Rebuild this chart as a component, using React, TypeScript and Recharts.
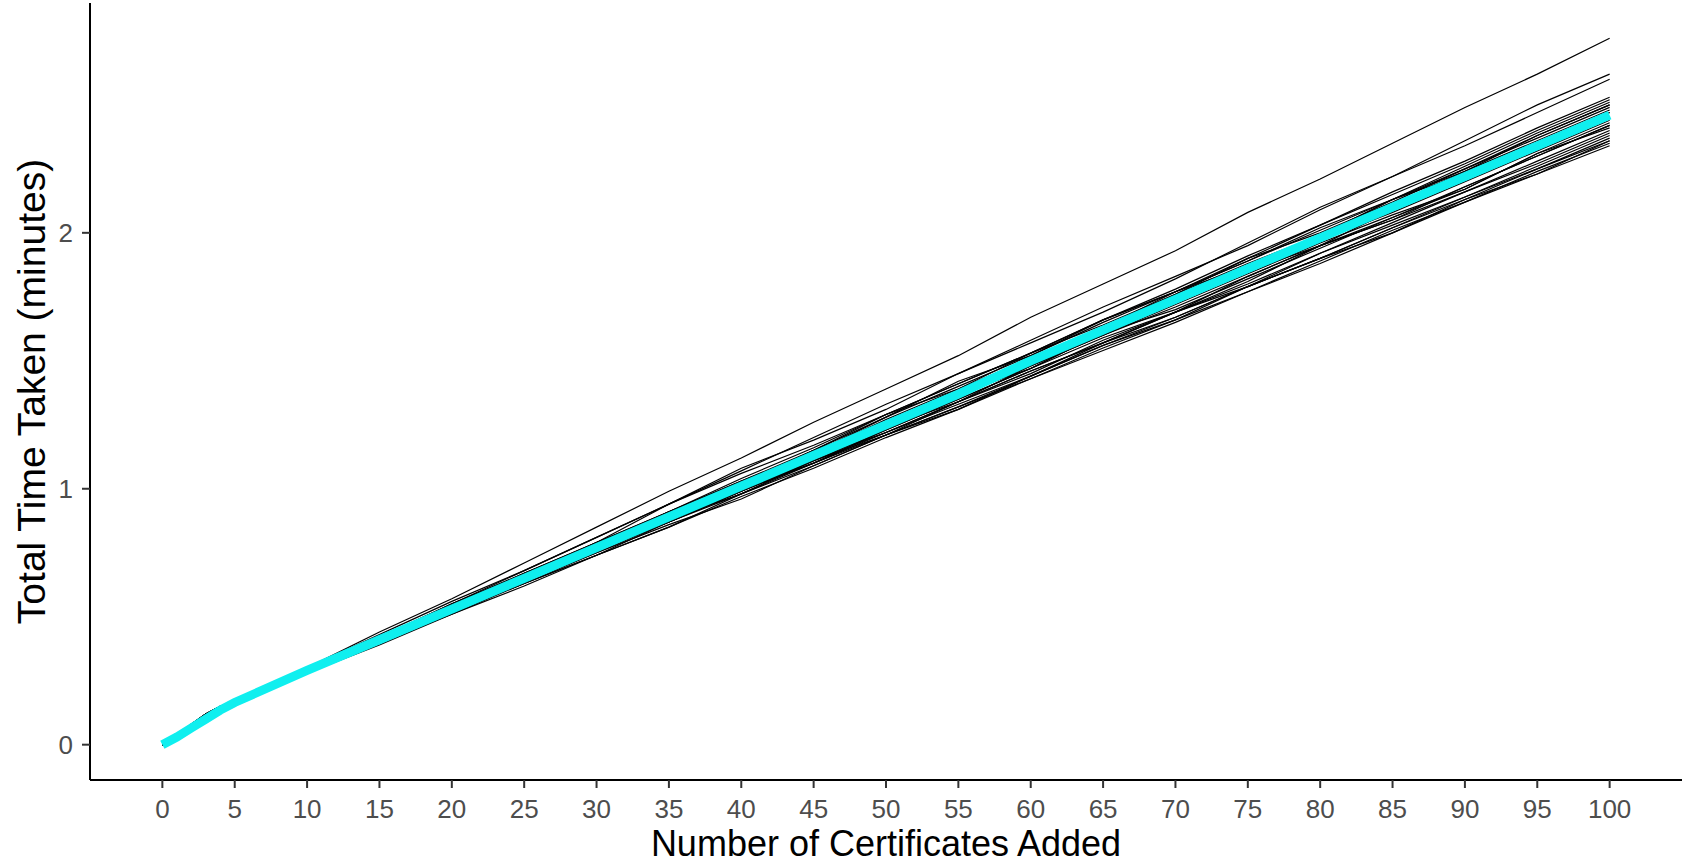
import React from "react";
import { LineChart, Line, XAxis, YAxis } from "recharts";

// certificates added (x); dense at the start where the curve bends
const certificates = [0, 1, 2, 3, 4, 5, 10, 15, 20, 25, 30, 35, 40, 45, 50, 55, 60, 65, 70, 75, 80, 85, 90, 95, 100];

const xTicks = [0, 5, 10, 15, 20, 25, 30, 35, 40, 45, 50, 55, 60, 65, 70, 75, 80, 85, 90, 95, 100];
const yTicks = [0, 1, 2];

// average over all runs (cyan)
const meanTime = [0, 0.03, 0.065, 0.1, 0.135, 0.165, 0.29, 0.41, 0.53, 0.65, 0.77, 0.89, 1.01, 1.13, 1.25, 1.37, 1.5, 1.62, 1.74, 1.86, 1.98, 2.1, 2.22, 2.34, 2.46];

// individual runs (minutes)
const runA = [0, 0.04, 0.08, 0.12, 0.15, 0.17, 0.3, 0.44, 0.57, 0.71, 0.85, 0.99, 1.12, 1.26, 1.39, 1.52, 1.67, 1.8, 1.93, 2.08, 2.21, 2.35, 2.49, 2.62, 2.76];
const runB = [0, 0.03, 0.07, 0.11, 0.14, 0.17, 0.29, 0.42, 0.55, 0.68, 0.81, 0.94, 1.07, 1.2, 1.33, 1.45, 1.57, 1.69, 1.82, 1.96, 2.1, 2.22, 2.36, 2.5, 2.62];
const runC = [0, 0.04, 0.08, 0.12, 0.15, 0.17, 0.3, 0.43, 0.56, 0.68, 0.81, 0.94, 1.08, 1.19, 1.31, 1.45, 1.58, 1.71, 1.83, 1.95, 2.09, 2.22, 2.34, 2.47, 2.6];
const runD = [0, 0.03, 0.07, 0.11, 0.14, 0.17, 0.29, 0.41, 0.54, 0.66, 0.79, 0.91, 1.04, 1.16, 1.29, 1.41, 1.53, 1.66, 1.78, 1.91, 2.03, 2.16, 2.28, 2.41, 2.53];
const runE = [0, 0.03, 0.07, 0.1, 0.14, 0.16, 0.3, 0.42, 0.55, 0.67, 0.79, 0.94, 1.06, 1.17, 1.29, 1.41, 1.53, 1.66, 1.77, 1.9, 2.03, 2.15, 2.27, 2.4, 2.52];
const runF = [0, 0.03, 0.06, 0.1, 0.13, 0.16, 0.29, 0.41, 0.55, 0.66, 0.78, 0.91, 1.03, 1.15, 1.28, 1.42, 1.52, 1.65, 1.77, 1.89, 2.02, 2.13, 2.26, 2.39, 2.51];
const runG = [0, 0.03, 0.07, 0.1, 0.14, 0.16, 0.28, 0.4, 0.53, 0.65, 0.79, 0.9, 1.02, 1.14, 1.27, 1.39, 1.53, 1.64, 1.76, 1.88, 1.99, 2.13, 2.25, 2.38, 2.5];
const runH = [0, 0.03, 0.07, 0.11, 0.14, 0.17, 0.3, 0.42, 0.54, 0.67, 0.79, 0.91, 1.03, 1.14, 1.28, 1.4, 1.52, 1.66, 1.77, 1.89, 2.01, 2.13, 2.24, 2.38, 2.5];
const runI = [0, 0.04, 0.08, 0.12, 0.15, 0.17, 0.29, 0.41, 0.53, 0.67, 0.78, 0.9, 1.02, 1.15, 1.29, 1.39, 1.51, 1.63, 1.76, 1.9, 2.0, 2.12, 2.25, 2.37, 2.49];
const runJ = [0, 0.03, 0.06, 0.1, 0.13, 0.16, 0.29, 0.41, 0.53, 0.65, 0.78, 0.88, 1.0, 1.14, 1.26, 1.38, 1.51, 1.63, 1.77, 1.87, 1.99, 2.11, 2.24, 2.36, 2.48];
const runK = [0, 0.03, 0.07, 0.11, 0.14, 0.17, 0.3, 0.42, 0.54, 0.66, 0.78, 0.9, 1.02, 1.14, 1.26, 1.37, 1.51, 1.63, 1.75, 1.87, 1.99, 2.13, 2.23, 2.35, 2.47];
const runL = [0, 0.03, 0.07, 0.1, 0.14, 0.16, 0.28, 0.4, 0.52, 0.65, 0.79, 0.89, 1.01, 1.13, 1.25, 1.37, 1.5, 1.6, 1.74, 1.86, 1.98, 2.1, 2.23, 2.33, 2.47];
const runM = [0, 0.04, 0.08, 0.12, 0.15, 0.17, 0.29, 0.41, 0.54, 0.65, 0.77, 0.89, 1.01, 1.15, 1.25, 1.37, 1.49, 1.61, 1.73, 1.85, 1.95, 2.09, 2.21, 2.33, 2.45];
const runN = [0, 0.03, 0.07, 0.11, 0.14, 0.17, 0.3, 0.42, 0.54, 0.66, 0.78, 0.89, 1.01, 1.13, 1.25, 1.37, 1.47, 1.61, 1.73, 1.86, 1.97, 2.08, 2.2, 2.32, 2.44];
const runO = [0, 0.03, 0.06, 0.1, 0.13, 0.16, 0.29, 0.41, 0.53, 0.65, 0.77, 0.88, 1.02, 1.12, 1.26, 1.36, 1.48, 1.6, 1.72, 1.84, 1.96, 2.07, 2.17, 2.31, 2.43];
const runP = [0, 0.03, 0.07, 0.1, 0.14, 0.16, 0.28, 0.4, 0.52, 0.66, 0.76, 0.87, 0.99, 1.11, 1.23, 1.35, 1.47, 1.59, 1.69, 1.83, 1.95, 2.06, 2.18, 2.3, 2.42];
const runQ = [0, 0.03, 0.07, 0.11, 0.14, 0.17, 0.3, 0.42, 0.54, 0.65, 0.77, 0.91, 1.01, 1.12, 1.24, 1.34, 1.48, 1.6, 1.71, 1.83, 1.95, 2.05, 2.18, 2.3, 2.42];
const runR = [0, 0.04, 0.08, 0.12, 0.15, 0.17, 0.29, 0.41, 0.53, 0.64, 0.76, 0.88, 1.0, 1.1, 1.23, 1.35, 1.47, 1.61, 1.7, 1.82, 1.94, 2.06, 2.17, 2.31, 2.41];
const runS = [0, 0.03, 0.06, 0.1, 0.13, 0.16, 0.28, 0.4, 0.52, 0.63, 0.74, 0.87, 0.99, 1.1, 1.22, 1.34, 1.45, 1.58, 1.69, 1.81, 1.95, 2.05, 2.16, 2.28, 2.4];
const runT = [0, 0.03, 0.07, 0.1, 0.14, 0.16, 0.29, 0.41, 0.52, 0.64, 0.76, 0.87, 0.99, 1.11, 1.21, 1.34, 1.46, 1.57, 1.69, 1.79, 1.92, 2.04, 2.16, 2.27, 2.39];
const runU = [0, 0.03, 0.07, 0.11, 0.14, 0.17, 0.3, 0.42, 0.52, 0.65, 0.76, 0.88, 0.98, 1.11, 1.22, 1.34, 1.46, 1.57, 1.69, 1.8, 1.92, 2.03, 2.14, 2.26, 2.38];
const runV = [0, 0.03, 0.06, 0.1, 0.13, 0.16, 0.28, 0.4, 0.51, 0.63, 0.74, 0.85, 0.98, 1.09, 1.21, 1.32, 1.44, 1.56, 1.66, 1.79, 1.9, 2.02, 2.14, 2.25, 2.37];
const runW = [0, 0.03, 0.07, 0.1, 0.14, 0.16, 0.29, 0.41, 0.52, 0.64, 0.75, 0.87, 0.98, 1.1, 1.21, 1.31, 1.44, 1.56, 1.67, 1.79, 1.9, 2.0, 2.13, 2.25, 2.36];
const runX = [0, 0.04, 0.08, 0.12, 0.15, 0.17, 0.3, 0.41, 0.53, 0.65, 0.76, 0.87, 0.99, 1.12, 1.22, 1.33, 1.44, 1.57, 1.67, 1.79, 1.9, 2.02, 2.13, 2.23, 2.36];
const runY = [0, 0.03, 0.07, 0.11, 0.14, 0.17, 0.29, 0.4, 0.52, 0.63, 0.75, 0.86, 0.96, 1.09, 1.21, 1.32, 1.43, 1.55, 1.66, 1.77, 1.89, 2.01, 2.12, 2.24, 2.35];
const runZ = [0, 0.03, 0.06, 0.1, 0.13, 0.16, 0.28, 0.39, 0.51, 0.62, 0.74, 0.85, 0.97, 1.08, 1.2, 1.31, 1.43, 1.54, 1.65, 1.77, 1.88, 2.0, 2.12, 2.23, 2.34];

const runs = [runA, runB, runC, runD, runE, runF, runG, runH, runI, runJ, runK, runL, runM, runN, runO, runP, runQ, runR, runS, runT, runU, runV, runW, runX, runY, runZ];

const rows = certificates.map((x, i) => {
  const row: Record<string, number> = { x, mean: meanTime[i] };
  runs.forEach((r, k) => {
    row["run" + k] = r[i];
  });
  return row;
});

export default function App() {
  return (
    <div
      style={{
        position: "fixed",
        left: 0,
        top: 0,
        width: 1687,
        height: 865,
        background: "#fff",
        fontFamily: '"Liberation Sans", Arial, sans-serif',
      }}
    >
      <LineChart width={1687} height={865} data={rows} margin={{ top: 3, right: 5, bottom: 0, left: 0 }}>
        <XAxis
          dataKey="x"
          type="number"
          domain={[-5, 105]}
          ticks={xTicks}
          interval={0}
          allowDataOverflow
          height={85}
          tickSize={8}
          tickMargin={12}
          axisLine={{ stroke: "#000", strokeWidth: 2 }}
          tickLine={{ stroke: "#333", strokeWidth: 2 }}
          tick={{ fill: "#4D4D4D", fontSize: 26 }}
          label={{ value: "Number of Certificates Added", position: "insideBottom", offset: 9, fill: "#000", fontSize: 36 }}
        />
        <YAxis
          type="number"
          domain={[-0.138, 2.898]}
          ticks={yTicks}
          allowDataOverflow
          width={90}
          tickSize={8}
          tickMargin={9}
          axisLine={{ stroke: "#000", strokeWidth: 2 }}
          tickLine={{ stroke: "#333", strokeWidth: 2 }}
          tick={{ fill: "#4D4D4D", fontSize: 26 }}
          label={{
            value: "Total Time Taken (minutes)",
            angle: -90,
            position: "insideLeft",
            offset: 31,
            fill: "#000",
            fontSize: 39,
            style: { textAnchor: "middle" },
          }}
        />
        {runs.map((_, k) => (
          <Line
            key={k}
            dataKey={"run" + k}
            type="linear"
            stroke="#000"
            strokeWidth={1.2}
            dot={false}
            activeDot={false}
            isAnimationActive={false}
          />
        ))}
        <Line
          dataKey="mean"
          type="linear"
          stroke="#0FEFEF"
          strokeWidth={9}
          dot={false}
          activeDot={false}
          isAnimationActive={false}
        />
      </LineChart>
    </div>
  );
}
